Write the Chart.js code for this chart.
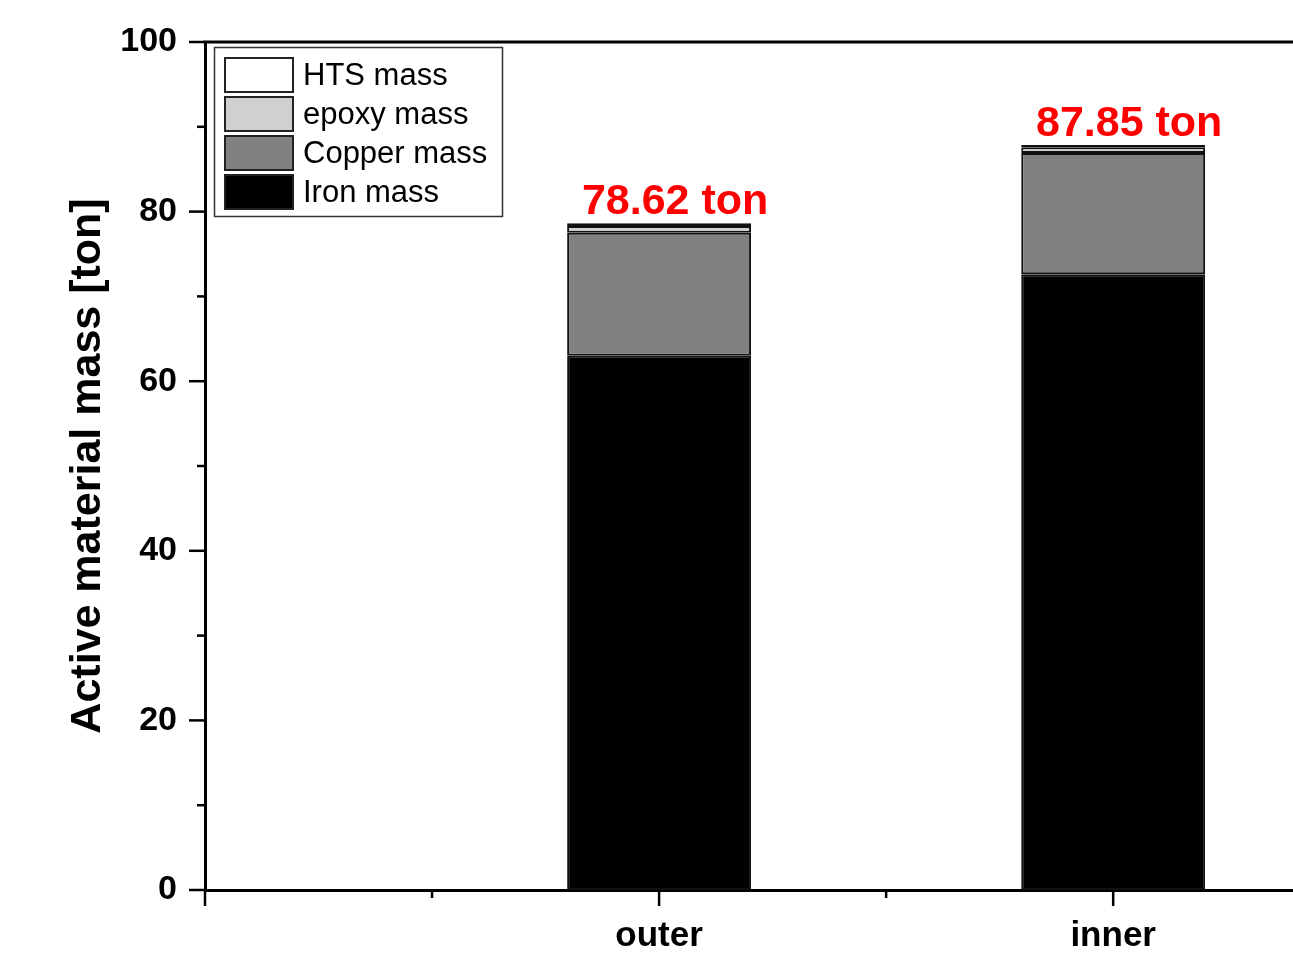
<!DOCTYPE html>
<html>
<head>
<meta charset="utf-8">
<script src="https://cdn.jsdelivr.net/npm/chart.js@4.4.1/dist/chart.umd.min.js"></script>
<style>
  html, body { margin: 0; padding: 0; background: #fff; overflow: hidden; }
  #wrap { width: 1293px; height: 966px; position: relative; }
</style>
</head>
<body>
<div id="wrap"><canvas id="massChart"></canvas></div>
<script>
// Active material mass per machine layout, in ton
const categories = ['outer', 'inner'];
const categoryPositions = [1, 2];
const ironMass = [63.0, 72.6];
const copperMass = [14.5, 14.3];
const epoxyMass = [0.8, 0.7];
const htsMass = [0.32, 0.25];
const yTickValues = [0, 20, 40, 60, 80, 100];

const FONT = '"Liberation Sans", Arial, Helvetica, sans-serif';

function points(values) {
  return categoryPositions.map((x, i) => ({ x: x, y: values[i] }));
}

function labelFor(v) {
  const i = categoryPositions.indexOf(v);
  return i >= 0 ? categories[i] : '';
}

// Axis tick marks (major + minor) and the top frame line
const frameTicks = {
  id: 'frameTicks',
  afterDraw(chart) {
    const { ctx, chartArea: a, scales: { x, y } } = chart;
    ctx.save();
    ctx.strokeStyle = '#000';
    ctx.lineWidth = 3;
    ctx.beginPath();
    ctx.moveTo(a.left - 1.5, a.top);
    ctx.lineTo(a.right, a.top);
    ctx.stroke();

    ctx.lineWidth = 2.5;
    // y ticks: every 10, major at multiples of 20
    for (let v = y.min; v <= y.max + 1e-9; v += 10) {
      const py = y.getPixelForValue(v);
      const len = (v % 20 === 0) ? 16 : 8;
      ctx.beginPath();
      ctx.moveTo(a.left, py);
      ctx.lineTo(a.left - len, py);
      ctx.stroke();
    }
    // x ticks: every 0.5, major at whole numbers
    for (let v = 0; v <= x.max + 1e-9; v += 0.5) {
      const px = x.getPixelForValue(v);
      const len = (Math.abs(v - Math.round(v)) < 1e-9) ? 16 : 8;
      ctx.beginPath();
      ctx.moveTo(px, a.bottom);
      ctx.lineTo(px, a.bottom + len);
      ctx.stroke();
    }
    ctx.restore();
  }
};

// Total mass annotations above each stack
const totalLabels = {
  id: 'totalLabels',
  afterDatasetsDraw(chart) {
    const { ctx, scales: { x, y } } = chart;
    ctx.save();
    ctx.fillStyle = '#ff0000';
    ctx.font = 'bold 43px ' + FONT;
    ctx.textAlign = 'center';
    ctx.textBaseline = 'alphabetic';
    categoryPositions.forEach((pos, i) => {
      let total = 0;
      chart.data.datasets.forEach(ds => { total += ds.data[i].y; });
      const px = x.getPixelForValue(pos);
      const py = y.getPixelForValue(total);
      ctx.fillText(total.toFixed(2) + ' ton', px + 16, py - 9);
    });
    ctx.restore();
  }
};

// Boxed legend in the upper left of the plot
const boxLegend = {
  id: 'boxLegend',
  afterDraw(chart) {
    const { ctx } = chart;
    const items = chart.data.datasets.slice().reverse();
    ctx.save();
    ctx.fillStyle = '#fff';
    ctx.fillRect(214, 47, 289, 170);
    ctx.strokeStyle = '#333';
    ctx.lineWidth = 1.5;
    ctx.strokeRect(214.5, 47.5, 288, 169);
    ctx.font = '31px ' + FONT;
    ctx.textAlign = 'left';
    ctx.textBaseline = 'middle';
    items.forEach((ds, i) => {
      const top = 58 + i * 39;
      ctx.fillStyle = ds.backgroundColor;
      ctx.fillRect(225, top, 68, 34);
      ctx.strokeStyle = '#222';
      ctx.lineWidth = 2;
      ctx.strokeRect(225, top, 68, 34);
      ctx.fillStyle = '#000';
      ctx.fillText(ds.label, 303, top + 18);
    });
    ctx.restore();
  }
};

const barStyle = {
  borderColor: '#111111',
  borderWidth: 2,
  borderSkipped: false,
  barPercentage: 0.405,
  categoryPercentage: 1.0
};

new Chart(document.getElementById('massChart'), {
  type: 'bar',
  data: {
    datasets: [
      Object.assign({ label: 'Iron mass', data: points(ironMass), backgroundColor: '#000000' }, barStyle),
      Object.assign({ label: 'Copper mass', data: points(copperMass), backgroundColor: '#808080' }, barStyle),
      Object.assign({ label: 'epoxy mass', data: points(epoxyMass), backgroundColor: '#d0d0d0' }, barStyle),
      Object.assign({ label: 'HTS mass', data: points(htsMass), backgroundColor: '#ffffff' }, barStyle)
    ]
  },
  options: {
    responsive: true,
    maintainAspectRatio: false,
    animation: false,
    devicePixelRatio: 1,
    layout: { padding: { left: 0, right: 0, top: 42, bottom: 0 } },
    plugins: {
      legend: { display: false },
      tooltip: { enabled: false }
    },
    scales: {
      x: {
        type: 'linear',
        stacked: true,
        min: 0,
        max: 2.396,
        offset: false,
        grid: { display: false, drawTicks: false },
        border: { display: true, color: '#000', width: 3 },
        ticks: {
          autoSkip: false,
          maxRotation: 0,
          padding: 25,
          color: '#000',
          font: { family: FONT, size: 35, weight: 'bold' },
          callback: (v) => labelFor(v)
        },
        afterBuildTicks: (s) => { s.ticks = categoryPositions.map(v => ({ value: v })); },
        afterFit: (s) => { s.height = 76; s.paddingLeft = 0; s.paddingRight = 0; }
      },
      y: {
        stacked: true,
        min: 0,
        max: 100,
        grid: { display: false, drawTicks: false },
        border: { display: true, color: '#000', width: 3 },
        ticks: {
          padding: 28,
          color: '#000',
          font: { family: FONT, size: 34, weight: 'bold' },
          callback: (v) => String(v)
        },
        afterBuildTicks: (s) => { s.ticks = yTickValues.map(v => ({ value: v })); },
        title: {
          display: true,
          text: 'Active material mass [ton]',
          color: '#000',
          font: { family: FONT, size: 43, weight: 'bold' },
          padding: { top: 62, bottom: 0 }
        },
        afterFit: (s) => { s.width = 205; s.paddingTop = 0; s.paddingBottom = 0; }
      }
    }
  },
  plugins: [frameTicks, totalLabels, boxLegend]
});
</script>
</body>
</html>
